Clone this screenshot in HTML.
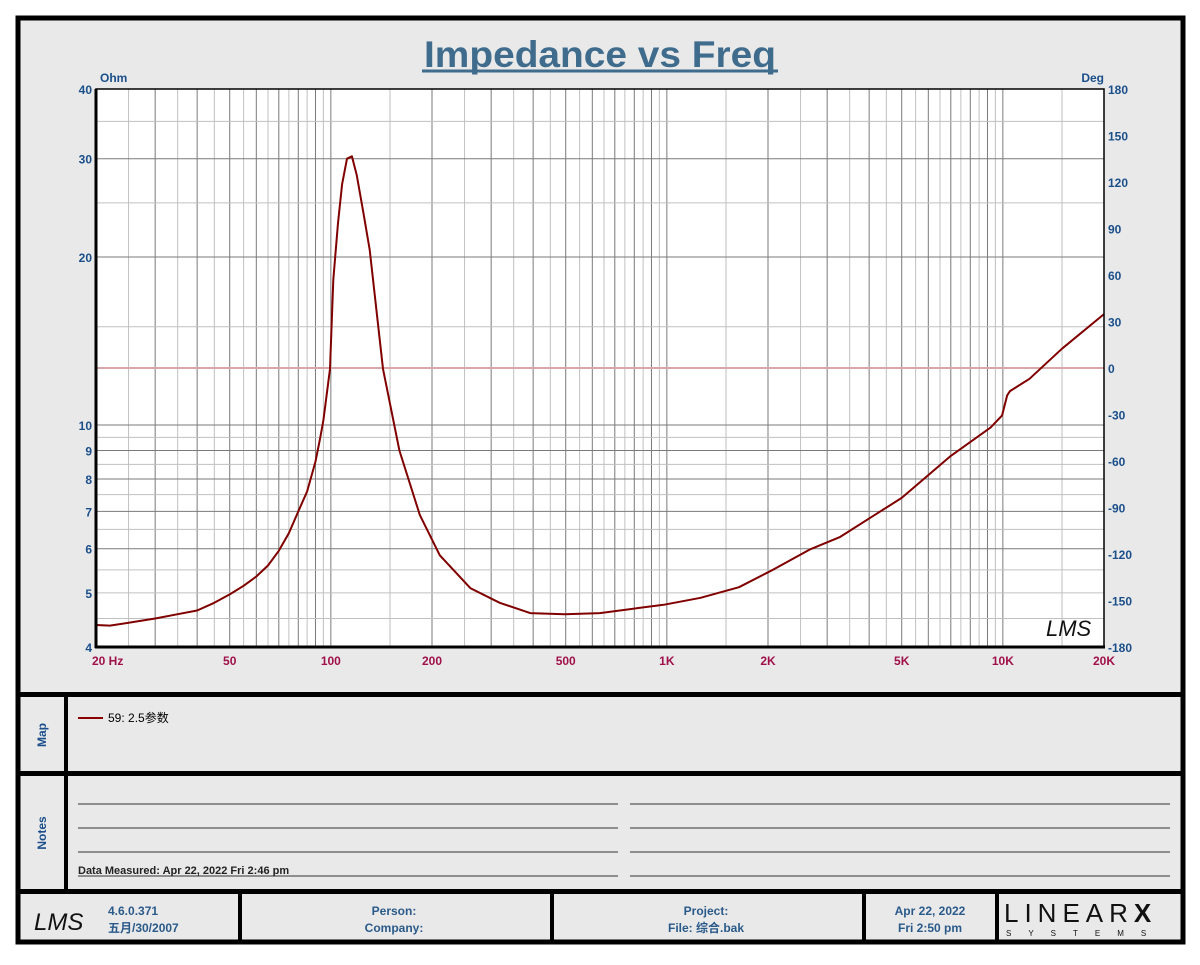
<!DOCTYPE html>
<html><head><meta charset="utf-8"><style>
body{margin:0;background:#fff;width:1200px;height:960px;overflow:hidden;font-family:"Liberation Sans","Noto Sans CJK SC",sans-serif}
svg text{font-family:"Liberation Sans","Noto Sans CJK SC",sans-serif}
</style></head><body>
<svg id="chart" width="1200" height="960" xmlns="http://www.w3.org/2000/svg">
<rect x="0" y="0" width="1200" height="960" fill="#fff"/>
<rect x="18" y="18" width="1165" height="924" fill="#e9e9e9" stroke="#000" stroke-width="5"/>
<text x="600" y="67" text-anchor="middle" font-size="37" font-weight="bold" fill="#3f6c8c" textLength="352" lengthAdjust="spacingAndGlyphs">Impedance vs Freq</text>
<line x1="422" y1="71" x2="778" y2="71" stroke="#3f6c8c" stroke-width="3"/>
<g id="plot"></g>
<rect x="18" y="692" width="1165" height="5" fill="#000"/>
<rect x="18" y="771" width="1165" height="5" fill="#000"/>
<rect x="18" y="889" width="1165" height="5" fill="#000"/>
<rect x="64" y="697" width="4" height="192" fill="#000"/>
<text transform="translate(46,735) rotate(-90)" text-anchor="middle" font-size="12" font-weight="bold" fill="#1a4f8a">Map</text>
<text transform="translate(46,833) rotate(-90)" text-anchor="middle" font-size="12" font-weight="bold" fill="#1a4f8a">Notes</text>
<g>
<line x1="78" y1="718" x2="103" y2="718" stroke="#8b0000" stroke-width="2"/>
<text x="108" y="722" font-size="12" fill="#000">59: 2.5参数</text>
</g>
<g stroke="#333" stroke-width="1">
<line x1="78" y1="804" x2="618" y2="804"/><line x1="630" y1="804" x2="1170" y2="804"/>
<line x1="78" y1="828" x2="618" y2="828"/><line x1="630" y1="828" x2="1170" y2="828"/>
<line x1="78" y1="852" x2="618" y2="852"/><line x1="630" y1="852" x2="1170" y2="852"/>
<line x1="78" y1="876" x2="618" y2="876"/><line x1="630" y1="876" x2="1170" y2="876"/>
</g>
<text x="78" y="874" font-size="11" font-weight="bold" fill="#222">Data Measured: Apr 22, 2022  Fri  2:46 pm</text>
<g>
<rect x="238" y="894" width="4" height="46" fill="#000"/>
<rect x="550" y="894" width="4" height="46" fill="#000"/>
<rect x="862" y="894" width="4" height="46" fill="#000"/>
<rect x="995" y="894" width="4" height="46" fill="#000"/>
<text x="34" y="930" font-size="24" font-style="italic" font-family="Liberation Serif" fill="#111">LMS</text>
<g font-size="12" font-weight="bold" fill="#2a5a8a">
<text x="108" y="915">4.6.0.371</text><text x="108" y="932">五月/30/2007</text>
<text x="394" y="915" text-anchor="middle">Person:</text><text x="394" y="932" text-anchor="middle">Company:</text>
<text x="706" y="915" text-anchor="middle">Project:</text><text x="706" y="932" text-anchor="middle">File: 综合.bak</text>
<text x="930" y="915" text-anchor="middle">Apr 22, 2022</text><text x="930" y="932" text-anchor="middle">Fri  2:50 pm</text>
</g>
<text x="1004" y="922" font-size="26" font-family="Liberation Serif" letter-spacing="6" fill="#111">LINEAR<tspan font-weight="bold" font-family="Liberation Sans">X</tspan></text>
<text x="1006" y="936" font-size="8" letter-spacing="17" fill="#111">SYSTEMS</text>
</g>
</svg>
<script>
const freqs=[20,22,25,30,35,40,45,50,55,60,65,70,75,80,85,90,93,95,99.4,101.7,105,108,111.7,115.5,119.5,125,130.5,143,160,184,211,260,318,392,497,632,828,978,1260,1640,2030,2660,3280,4050,5000,7000,9200,9950,10300,10500,12000,15000,20000];
const ohms=[4.38,4.37,4.42,4.5,4.58,4.65,4.8,4.97,5.15,5.35,5.6,5.95,6.4,7.0,7.6,8.6,9.5,10.2,12.6,18.2,23,27,30,30.3,28,24,20.6,12.6,9,6.9,5.84,5.1,4.8,4.6,4.58,4.6,4.7,4.76,4.9,5.12,5.47,5.98,6.3,6.83,7.4,8.8,9.9,10.4,11.3,11.5,12.1,13.7,15.8];
const xTicks=[20,50,100,200,500,1000,2000,5000,10000,20000];
const xTickLabels=["20  Hz","50","100","200","500","1K","2K","5K","10K","20K"];
const yTicks=[4,5,6,7,8,9,10,20,30,40];
const phaseTicks=[180,150,120,90,60,30,0,-30,-60,-90,-120,-150,-180];
const L=96,R=1104,T=89,B=647;
const xs=f=>L+(R-L)*Math.log10(f/20)/3;
const ys=v=>B-(B-T)*Math.log10(v/4);
const ps=p=>T+(B-T)*(180-p)/360;
const NS="http://www.w3.org/2000/svg";
const g=document.getElementById('plot');
function mk(t,a,p){const e=document.createElementNS(NS,t);for(const k in a)e.setAttribute(k,a[k]);(p||g).appendChild(e);return e;}
const bg=mk('rect',{x:L,y:T,width:R-L,height:B-T,fill:'#fff'});


for(let d=10;d<=10000;d*=10){for(let n=1;n<10;n+=0.5){const f=n*d;if(f<=20||f>=20000)continue;
const dark=Number.isInteger(n);
const l=mk('line',{x1:xs(f),x2:xs(f),y1:T,y2:B,stroke:dark?'#7a7a7a':'#c0c0c0','stroke-width':1});

}}
const hg=[4.5,5,5.5,6,6.5,7,7.5,8,8.5,9,9.5,10,15,20,25,30,35];
hg.forEach(v=>{const dark=Number.isInteger(v)&&v%5!==0||v===10||v===20||v===30;
const l=mk('line',{x1:L,x2:R,y1:ys(v),y2:ys(v),stroke:dark?'#7a7a7a':'#c0c0c0','stroke-width':1});

});
const z=mk('line',{x1:L,x2:R,y1:ps(0),y2:ps(0),stroke:'#d8a8a8','stroke-width':2});


const path=mk('path',{d:freqs.map((f,i)=>(i?'L':'M')+xs(f).toFixed(1)+','+ys(ohms[i]).toFixed(1)).join(''),fill:'none',stroke:'#800000','stroke-width':2,'stroke-linejoin':'round'});


const br=mk('path',{d:`M${L},${T}H${R}V${B}H${L}Z`,fill:'none',stroke:'#000','stroke-width':1.5});


mk('line',{x1:L,x2:L,y1:T,y2:B+1,stroke:'#000','stroke-width':3});
mk('line',{x1:L-1,x2:R+1,y1:B,y2:B,stroke:'#000','stroke-width':3});
const lm=mk('text',{x:1046,y:636,'font-size':22,'font-style':'italic','font-family':'Liberation Serif',fill:'#111'});lm.textContent='LMS';


xTicks.forEach((f,i)=>{const t=mk('text',{x:i===0?92:xs(f),y:665,'font-size':12,'font-weight':'bold',fill:'#a0104a','text-anchor':i===0?'start':'middle'});
t.textContent=xTickLabels[i];

});
yTicks.forEach(v=>{const t=mk('text',{x:92,y:ys(v)+5,'font-size':12,'font-weight':'bold',fill:'#1a4f8a','text-anchor':'end'});
t.textContent=v;

});
phaseTicks.forEach(p=>{const t=mk('text',{x:1108,y:ps(p)+5,'font-size':12,'font-weight':'bold',fill:'#1a4f8a'});
t.textContent=p;

});
const u1=mk('text',{x:100,y:82,'font-size':12,'font-weight':'bold',fill:'#1a4f8a'});u1.textContent='Ohm';


const u2=mk('text',{x:1104,y:82,'font-size':12,'font-weight':'bold',fill:'#1a4f8a','text-anchor':'end'});u2.textContent='Deg';


</script>
</body></html>
